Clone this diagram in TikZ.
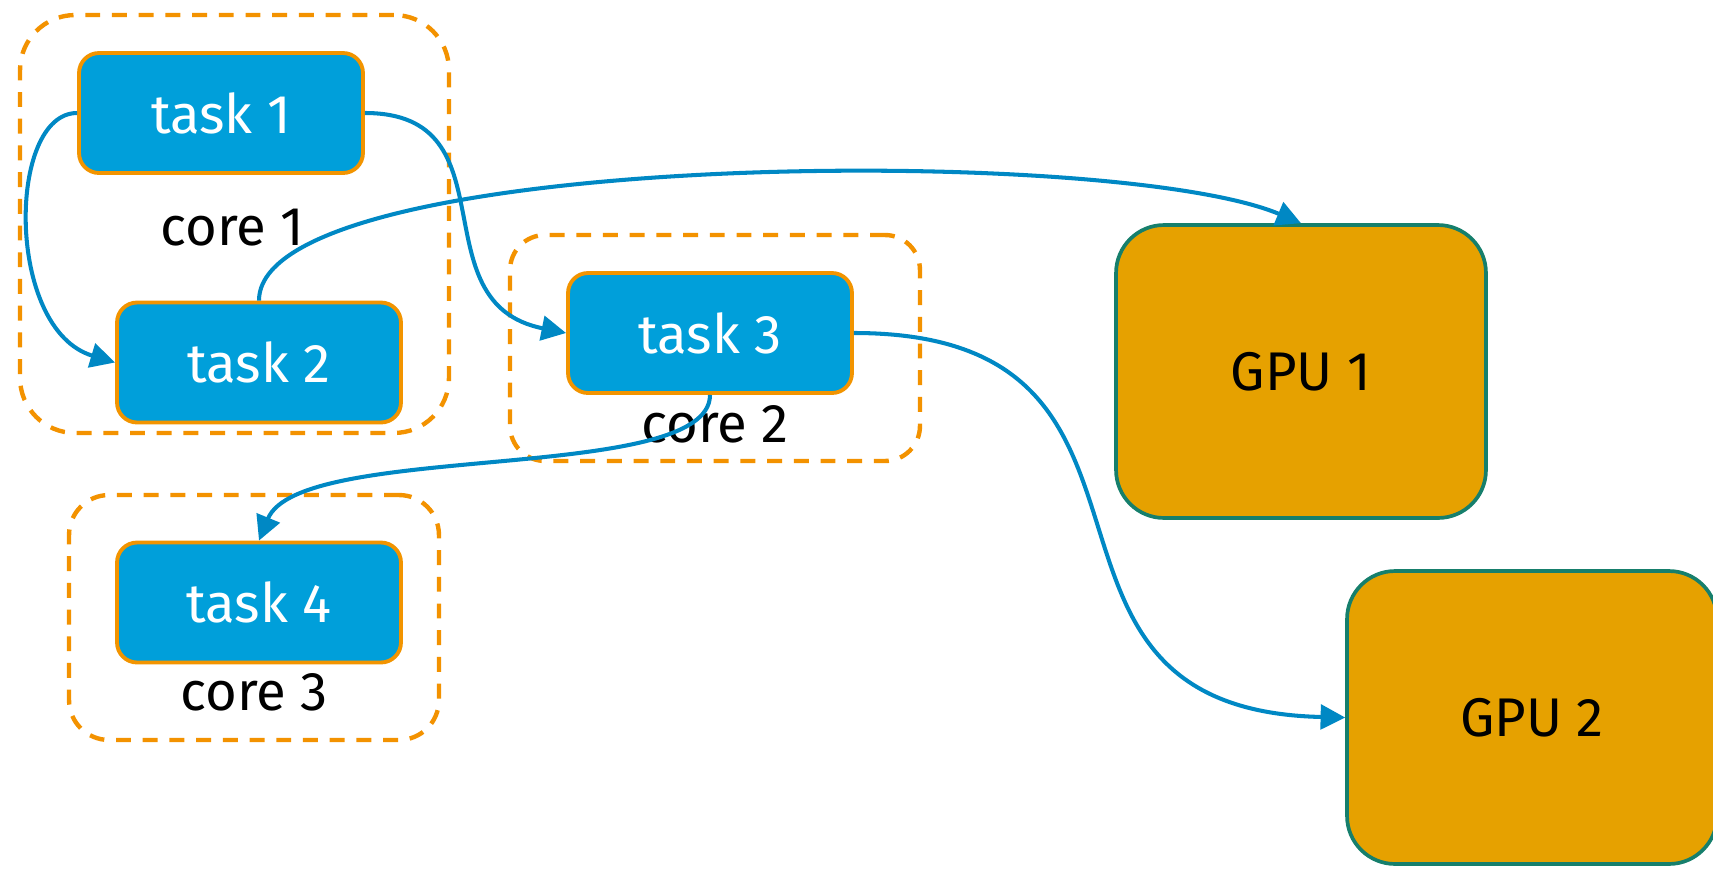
\documentclass[tikz,border=0pt]{standalone}
\usepackage{fontspec}
\setmainfont{Fira Sans}
\usetikzlibrary{arrows.meta}
\definecolor{taskfill}{HTML}{009FDA}
\definecolor{taskborder}{HTML}{F29400}
\definecolor{coreline}{HTML}{F39200}
\definecolor{gpufill}{HTML}{E6A100}
\definecolor{gpuborder}{HTML}{167F6C}
\definecolor{linkcol}{HTML}{0088C4}
\begin{document}
\begin{tikzpicture}[x=0.02cm,y=-0.02cm,
  every node/.style={font=\fontsize{31}{37}\selectfont, inner sep=0pt},
  taskbox/.style={draw=taskborder, fill=taskfill, line width=2.2pt, rounded corners=0.4cm,
    minimum width=5.68cm, minimum height=2.4cm, text=white},
  corebox/.style={draw=coreline, line width=2.5pt, dash pattern=on 8.5pt off 6.7pt},
  gpubox/.style={draw=gpuborder, fill=gpufill, line width=2.1pt, rounded corners=0.96cm,
    minimum width=7.4cm, minimum height=5.86cm, text=black},
  corelabel/.style={anchor=base, text=black},
  linkarrow/.style={draw=linkcol, line width=2.3pt, -{Triangle[length=14pt,width=14pt]}}
]
\useasboundingbox (0,0) rectangle (1713,869);

% core groups
\node[corebox, rounded corners=1.1cm, minimum width=8.58cm, minimum height=8.36cm] (core1) at (234.5,224) {};
\node[corebox, rounded corners=0.7cm, minimum width=8.2cm, minimum height=4.52cm] (core2) at (715,348) {};
\node[corebox, rounded corners=0.8cm, minimum width=7.4cm, minimum height=4.9cm] (core3) at (254,617.5) {};

% tasks
\node[taskbox] (t1) at (221,113) {task 1};
\node[taskbox] (t2) at (259,362.5) {task 2};
\node[taskbox] (t3) at (710,333) {task 3};
\node[taskbox] (t4) at (259,602.5) {task 4};

% GPUs
\node[gpubox] (g1) at (1301,371.5) {GPU 1};
\node[gpubox] (g2) at (1532,717.5) {GPU 2};

% core labels
\node[corelabel] (c1lab) at (232.5,245) {core 1};
\node[corelabel] (c2lab) at (715,442) {core 2};
\node[corelabel] (c3lab) at (254,710) {core 3};

% connectors
\draw[linkarrow] (t1.west) .. controls +(-70,0) and +(-110,-33) .. (t2.west);
\draw[linkarrow] (t1.east) .. controls +(150,0) and +(-150,-30) .. (t3.west);
\draw[linkarrow] (t2.north) .. controls +(0,-150) and +(-190,-80) .. (g1.north);
\draw[linkarrow] (t3.east) .. controls +(360,0) and +(-360,-8) .. (g2.west);
\draw[linkarrow] (t3.south) .. controls +(0,90) and +(41,-100) .. (t4.north);
\end{tikzpicture}
\end{document}
